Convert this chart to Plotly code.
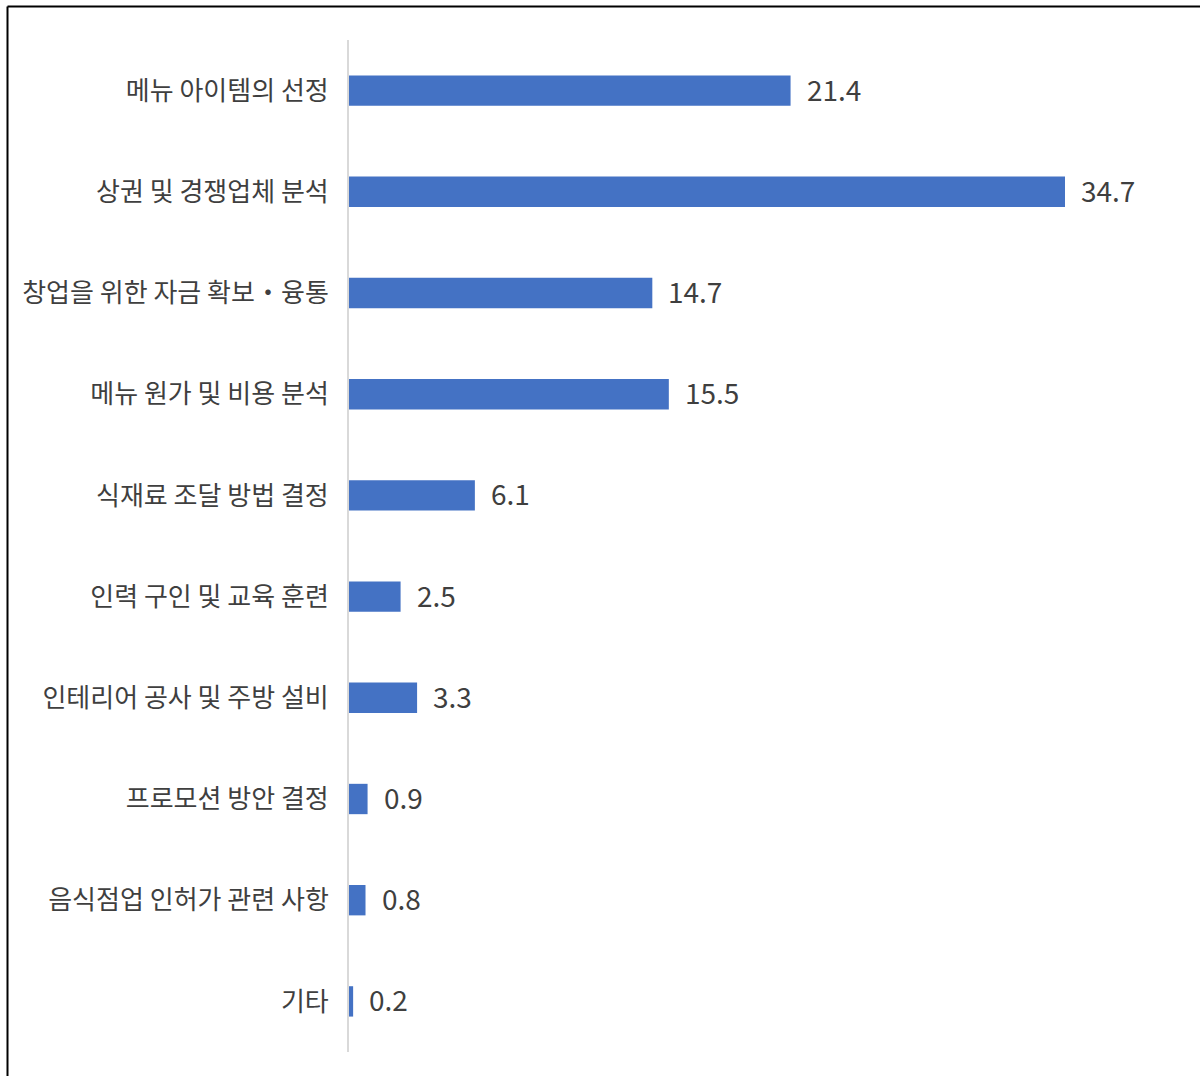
import plotly.graph_objects as go

categories = [
    "메뉴 아이템의 선정",
    "상권 및 경쟁업체 분석",
    "창업을 위한 자금 확보・융통",
    "메뉴 원가 및 비용 분석",
    "식재료 조달 방법 결정",
    "인력 구인 및 교육 훈련",
    "인테리어 공사 및 주방 설비",
    "프로모션 방안 결정",
    "음식점업 인허가 관련 사항",
    "기타",
]
values = [21.4, 34.7, 14.7, 15.5, 6.1, 2.5, 3.3, 0.9, 0.8, 0.2]

W, H = 1200, 1076
ML, MR, MT, MB = 349, 0, 40, 24
pw = W - ML - MR
ph = H - MT - MB
px_per_unit = (1065 - 349) / 34.7
xmax = pw / px_per_unit

FONT = "Noto Sans CJK KR"
TXT = "#3f3f3f"

fig = go.Figure()
fig.add_trace(go.Bar(
    x=values, y=categories, orientation="h",
    marker=dict(color="#4472C4", line=dict(width=0)),
    hoverinfo="x+y",
))

for c, v in zip(categories, values):
    fig.add_annotation(x=v, y=c, xref="x", yref="y", text=f"{v:.1f}",
                       showarrow=False, xanchor="left", yanchor="middle",
                       xshift=14, yshift=2, font=dict(family=FONT, size=28, color=TXT))

def px2paper_x(px):
    return (px - ML) / pw

def py2paper_y(py):
    return (H - MB - py) / ph

# frame lines (top and left)
fig.add_shape(type="line", xref="paper", yref="paper",
              x0=px2paper_x(7.5), x1=px2paper_x(1200), y0=py2paper_y(6.5), y1=py2paper_y(6.5),
              line=dict(color="#000000", width=2))
fig.add_shape(type="line", xref="paper", yref="paper",
              x0=px2paper_x(7.5), x1=px2paper_x(7.5), y0=py2paper_y(6.5), y1=py2paper_y(1076),
              line=dict(color="#000000", width=2))

fig.update_layout(
    width=W, height=H,
    margin=dict(l=ML, r=MR, t=MT, b=MB, pad=0),
    paper_bgcolor="white", plot_bgcolor="white",
    showlegend=False,
    bargap=0.7,
    font=dict(family=FONT, color=TXT),
    xaxis=dict(range=[0, xmax], showgrid=False, zeroline=False, showticklabels=False,
               showline=False, fixedrange=True),
    yaxis=dict(categoryorder="array", categoryarray=categories, autorange="reversed",
               showgrid=False, zeroline=False, showline=True, linecolor="#d9d9d9", linewidth=2,
               ticks="", ticklabelstandoff=13, tickfont=dict(family=FONT, size=26, color=TXT)),
)

fig.write_html("out.html", config={"displayModeBar": False},
               post_script="document.body.style.margin='0';document.body.style.padding='0';")
